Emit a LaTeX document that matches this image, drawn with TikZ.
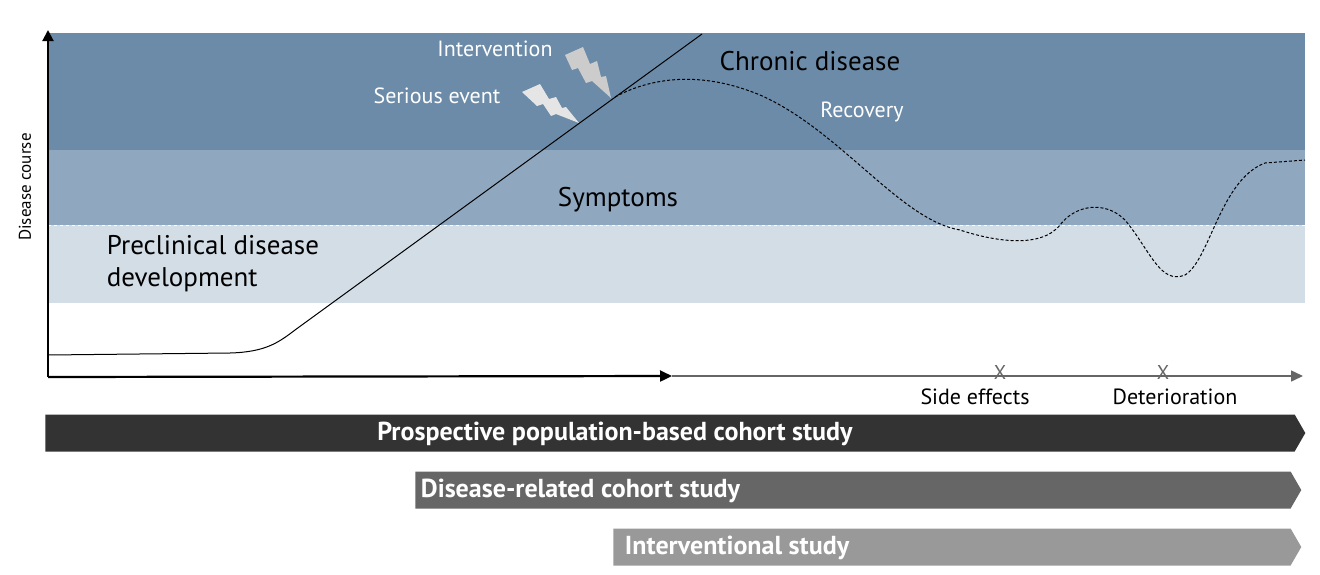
\documentclass[tikz,border=0pt]{standalone}
\usepackage{fontspec}
\setmainfont{PT Sans}
\usetikzlibrary{arrows.meta,shapes.arrows}
\definecolor{bandDark}{HTML}{6B8BA8}
\definecolor{bandMid}{HTML}{8FA7BF}
\definecolor{bandLight}{HTML}{D3DDE6}
\tikzset{
  lbl/.style={inner sep=0.75pt, font=\fontsize{22}{26}\selectfont},
  big/.style={inner sep=0.75pt, font=\fontsize{27}{32}\selectfont},
  study/.style={single arrow, single arrow head extend=0pt, single arrow tip angle=120,
    minimum height=#1, minimum width=37, inner sep=0, anchor=west},
  studytext/.style={inner sep=0.75pt, anchor=west, text=white,
    font=\fontsize{26}{30}\selectfont\bfseries}
}
\begin{document}
\begin{tikzpicture}[x=1pt,y=-1pt]
\useasboundingbox (0,0) rectangle (1320,574);

%Bands
\fill[bandDark]  (48,33)  rectangle (1305,150);
\fill[bandMid]   (48,150) rectangle (1305,225);
\fill[bandLight] (48,225) rectangle (1305,303);
\draw[white, dashed, line width=0.6] (48,225) -- (1305,225);

%Axes
\coordinate (o) at (48,377);
\coordinate (ytop) at (48,30);
\coordinate (xmid) at (672,376);
\coordinate (xend) at (1303,376);
\draw[line width=2, -{Triangle[length=11,width=11]}] (o) -- (ytop);
\draw[line width=2.2, -{Triangle[length=12,width=11]}] (o) -- (xmid);
\draw[gray!80!black, line width=1.5, -{Triangle[length=12,width=11]}] (xmid) -- (xend);
\node[rotate=90, lbl, font=\fontsize{17}{20}\selectfont] (ylab) at (25,187) {Disease course};

%Curves
\draw[line width=1] (48,355) -- (230,353) .. controls (265,352) and (278,343) .. (295,330) -- (702,34);
\draw[line width=1, dashed, dash pattern=on 3pt off 2pt] (615,97) .. controls (650,78) and (700,70) .. (760,95)
  .. controls (840,130) and (900,220) .. (960,230) .. controls (990,240) and (1040,250) .. (1060,225)
  .. controls (1075,205) and (1105,200) .. (1125,220) .. controls (1150,250) and (1160,285) .. (1185,275)
  .. controls (1210,260) and (1220,180) .. (1265,163) -- (1305,160);

%Bolts
\fill[black!20] (565,55) -- (583,47) -- (590,64) -- (597,61) -- (601,77) -- (606,76) -- (611,98)
  -- (592,81) -- (586,83) -- (578,68) -- (572,70) -- cycle;
\fill[black!10] (522,92) -- (540,84) -- (549,99) -- (556,97) -- (562,108) -- (566,107) -- (579,123)
  -- (556,114) -- (551,116) -- (543,104) -- (537,106) -- cycle;

%Texts
\node[big] (chronic) at (810,61) {Chronic disease};
\node[lbl, text=white] (recovery) at (862,112) {Recovery};
\node[big] (symptoms) at (618,200) {Symptoms};
\node[big, anchor=west, align=left] (preclin) at (106,264) {Preclinical disease\\development};
\node[lbl, text=white] (interv) at (495,49) {Intervention};
\node[lbl, text=white] (serious) at (437,96) {Serious event};

%Markers
\node[lbl, text=gray!80!black, font=\fontsize{20}{20}\selectfont] (m1) at (1000,372) {X};
\node[lbl, text=gray!80!black, font=\fontsize{20}{20}\selectfont] (m2) at (1163,372) {X};
\node[lbl] (side) at (975,397) {Side effects};
\node[lbl] (deter) at (1175,397) {Deterioration};

%Studies
\node[study=1260, fill=black!80] (prosp) at (45,433) {};
\node[studytext, anchor=center] at (615,434) {Prospective population-based cohort study};
\node[study=886, fill=black!60] (disrel) at (415,490) {};
\node[studytext] at (420,491) {Disease-related cohort study};
\node[study=688, fill=black!40] (interst) at (613,547) {};
\node[studytext] at (624,548) {Interventional study};
\end{tikzpicture}
\end{document}
